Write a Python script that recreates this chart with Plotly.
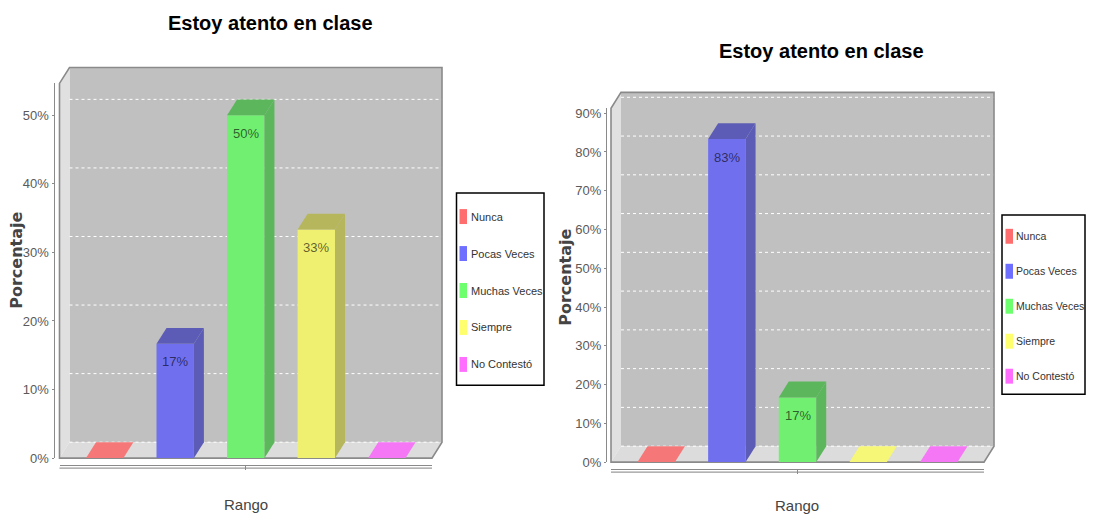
import plotly.graph_objects as go

# ---------------- data ----------------
TITLE = "Estoy atento en clase"
CATEGORIES = ["Nunca", "Pocas Veces", "Muchas Veces", "Siempre", "No Contestó"]
LEFT_VALUES = [0.0, 16.67, 50.0, 33.33, 0.0]      # percent
RIGHT_VALUES = [0.0, 83.33, 16.67, 0.0, 0.0]      # percent
LEFT_TICKS = [0, 10, 20, 30, 40, 50]
RIGHT_TICKS = [0, 10, 20, 30, 40, 50, 60, 70, 80, 90]
X_TITLE = "Rango"
Y_TITLE = "Porcentaje"
BASE_COLORS = ["#FF5555", "#5555FF", "#55FF55", "#FFFF55", "#FF55FF"]

# ---------------- style / layout ----------------
# window-pixel -> figure mapping (page body margin of 8px, slight vertical squeeze)
OX, OY, SY = 8, 8.3, 0.984
W, H = 1078, 513
NARROW = "Liberation Sans, Arial, sans-serif"
WIDE_BOLD = "DejaVu Sans, Verdana, sans-serif"
WALL = "#c0c0c0"
FLOOR = "#dcdcdc"
SIDEWALL = "#e0e0e0"
EDGE = "#8a8a8a"
BAR_W = 0.53
XR = [-0.64, 4.64]

PANELS = [
    dict(values=LEFT_VALUES, ticks=LEFT_TICKS, ymax=54.65,
         fx0=59.5, fx1=432, zero=458, top=82, dx=10, dy=16, axis_x=53.5,
         xline=465, title=(270, 21), ylab=(17, 260), xlab=(246, 505),
         legend=(456.5, 192, 544, 385), row0=215.6, rowstep=37.1,
         sw_x=459.5, tx=468.5, lfont=11),
    dict(values=RIGHT_VALUES, ticks=RIGHT_TICKS, ymax=91.26,
         fx0=611, fx1=984, zero=462, top=107, dx=10, dy=16, axis_x=606,
         xline=469, title=(821, 49), ylab=(566, 277), xlab=(797, 506),
         legend=(1002, 214, 1085, 394), row0=235.4, rowstep=35.1,
         sw_x=1005.5, tx=1014, lfont=10.5),
]


def px(x):
    return (x - OX) / W


def py(y):
    return 1 - ((y - OY) / SY) / H


def blend(hexc, factor=1.0, alpha=0.75, bg=(192, 192, 192)):
    r, g, b = (int(hexc[i:i + 2], 16) for i in (1, 3, 5))
    r, g, b = (int(c * factor) for c in (r, g, b))
    out = [round(alpha * c + (1 - alpha) * k) for c, k in zip((r, g, b), bg)]
    return "rgb({},{},{})".format(*out)


def path(points):
    return "M " + " L ".join(f"{px(x):.5f},{py(y):.5f}" for x, y in points) + " Z"


fig = go.Figure()
shapes = []
annotations = []

for k, p in enumerate(PANELS):
    sfx = "" if k == 0 else str(k + 1)
    xa, ya = "x" + sfx, "y" + sfx
    fx0, fx1, zero, top, dx, dy = p["fx0"], p["fx1"], p["zero"], p["top"], p["dx"], p["dy"]
    ppy = (zero - top) / p["ymax"]          # pixels per percent
    ppx = (fx1 - fx0) / (XR[1] - XR[0])     # pixels per category unit
    ddx, ddy = dx / ppx, dy / ppy

    # --- 3D box walls (decoration) ---
    shapes.append(dict(type="path", xref="paper", yref="paper", layer="below",
                       path=path([(fx0 + dx, top - dy), (fx1 + dx, top - dy),
                                  (fx1 + dx, zero - dy), (fx0 + dx, zero - dy)]),
                       fillcolor=WALL, line=dict(width=0)))
    shapes.append(dict(type="path", xref="paper", yref="paper", layer="below",
                       path=path([(fx0, zero), (fx0, top), (fx0 + dx, top - dy),
                                  (fx0 + dx, zero - dy)]),
                       fillcolor=SIDEWALL, line=dict(width=0)))
    shapes.append(dict(type="path", xref="paper", yref="paper", layer="below",
                       path=path([(fx0, zero), (fx0 + dx, zero - dy),
                                  (fx1 + dx, zero - dy), (fx1, zero)]),
                       fillcolor=FLOOR, line=dict(width=0)))
    # gridlines on back wall
    for t in p["ticks"]:
        yy = zero - t * ppy - dy
        shapes.append(dict(type="line", xref="paper", yref="paper", layer="below",
                           x0=px(fx0 + dx), x1=px(fx1 + dx), y0=py(yy), y1=py(yy),
                           line=dict(color="white", width=1, dash="dot")))
    # outline of the box
    shapes.append(dict(type="path", xref="paper", yref="paper", layer="below",
                       path=path([(fx0, zero), (fx0, top), (fx0 + dx, top - dy),
                                  (fx1 + dx, top - dy), (fx1 + dx, zero - dy),
                                  (fx1, zero)]),
                       fillcolor="rgba(0,0,0,0)", line=dict(color=EDGE, width=1.6)))
    # second line of the category axis
    shapes.append(dict(type="line", xref="paper", yref="paper", layer="below",
                       x0=px(fx0), x1=px(fx1), y0=py(p["xline"] + 3), y1=py(p["xline"] + 3),
                       line=dict(color="#9a9a9a", width=1.2)))

    # --- bars ---
    for i, (cat, v, c) in enumerate(zip(CATEGORIES, p["values"], BASE_COLORS)):
        fig.add_trace(go.Bar(x=[i], y=[v], width=BAR_W, name=cat, xaxis=xa, yaxis=ya,
                             marker=dict(color=blend(c), line=dict(width=0)),
                             showlegend=False, hoverinfo="name+y"))
        xl, xr = i - BAR_W / 2, i + BAR_W / 2
        face_col = blend(c, 0.7) if v > 0 else blend(c, 1.0, 0.75, (220, 220, 220))
        # top face
        fig.add_trace(go.Scatter(x=[xl, xl + ddx, xr + ddx, xr, xl],
                                 y=[v, v + ddy, v + ddy, v, v],
                                 fill="toself", fillcolor=face_col, mode="lines",
                                 line=dict(width=0), xaxis=xa, yaxis=ya,
                                 showlegend=False, hoverinfo="skip"))
        if v > 0:
            # side face
            fig.add_trace(go.Scatter(x=[xr, xr + ddx, xr + ddx, xr, xr],
                                     y=[0, ddy, v + ddy, v, 0],
                                     fill="toself", fillcolor=blend(c, 0.7), mode="lines",
                                     line=dict(width=0), xaxis=xa, yaxis=ya,
                                     showlegend=False, hoverinfo="skip"))
            annotations.append(dict(x=i, y=v, xref=xa, yref=ya, text=f"{round(v)}%",
                                    showarrow=False, yshift=-18, yanchor="middle",
                                    font=dict(family=NARROW, size=13,
                                              color="rgba(0,0,0,0.62)")))

    # --- axes ---
    fig.update_layout(**{
        ("xaxis" + sfx): dict(domain=[px(fx0), px(fx1)], range=XR, anchor="free",
                              position=py(p["xline"]), showline=True, linecolor="#8a8a8a",
                              linewidth=1.2, tickvals=[2], ticks="outside", ticklen=4,
                              tickcolor="#8a8a8a", showticklabels=False, showgrid=False,
                              zeroline=False, fixedrange=True),
        ("yaxis" + sfx): dict(domain=[py(zero), py(top)], range=[0, p["ymax"]],
                              anchor="free", position=px(p["axis_x"]), showline=True,
                              linecolor="#8a8a8a", linewidth=1, ticks="outside",
                              ticklen=2, tickcolor="#8a8a8a", tickvals=p["ticks"],
                              ticktext=[f"{t}%" for t in p["ticks"]],
                              showgrid=False, zeroline=False,
                              tickfont=dict(family=NARROW, size=13, color="#5a5a5a"),
                              fixedrange=True),
    })

    # --- titles ---
    annotations.append(dict(x=px(p["title"][0]), y=py(p["title"][1]), xref="paper", yref="paper",
                            text=f"<b>{TITLE}</b>", showarrow=False, xanchor="center",
                            yanchor="middle", font=dict(family=NARROW, size=20, color="black")))
    annotations.append(dict(x=px(p["ylab"][0]), y=py(p["ylab"][1]), xref="paper", yref="paper",
                            text=f"<b>{Y_TITLE}</b>", showarrow=False, textangle=-90,
                            xanchor="center", yanchor="middle",
                            font=dict(family=WIDE_BOLD, size=16, color="#444444")))
    annotations.append(dict(x=px(p["xlab"][0]), y=py(p["xlab"][1]), xref="paper", yref="paper",
                            text=X_TITLE, showarrow=False, xanchor="center", yanchor="middle",
                            font=dict(family=NARROW, size=15, color="#444444")))

    # --- legend box (manual) ---
    lx0, ly0, lx1, ly1 = p["legend"]
    shapes.append(dict(type="rect", xref="paper", yref="paper", layer="above",
                       x0=px(lx0), x1=px(lx1), y0=py(ly0), y1=py(ly1),
                       fillcolor="white", line=dict(color="black", width=1.5)))
    for j, (cat, c) in enumerate(zip(CATEGORIES, BASE_COLORS)):
        yc = p["row0"] + j * p["rowstep"]
        shapes.append(dict(type="rect", xref="paper", yref="paper", layer="above",
                           x0=px(p["sw_x"]), x1=px(p["sw_x"] + 7.5),
                           y0=py(yc - 7.5), y1=py(yc + 7.5),
                           fillcolor=blend(c, 1.0, 0.85, (255, 255, 255)),
                           line=dict(width=0)))
        annotations.append(dict(x=px(p["tx"]), y=py(yc), xref="paper", yref="paper",
                                text=cat, showarrow=False, xanchor="left", yanchor="middle",
                                font=dict(family=NARROW, size=p["lfont"], color="#333333")))

fig.update_layout(width=W, height=H, margin=dict(l=0, r=0, t=0, b=0),
                  paper_bgcolor="white", plot_bgcolor="rgba(0,0,0,0)",
                  barmode="overlay", showlegend=False,
                  shapes=shapes, annotations=annotations)

fig.write_html("out.html")
